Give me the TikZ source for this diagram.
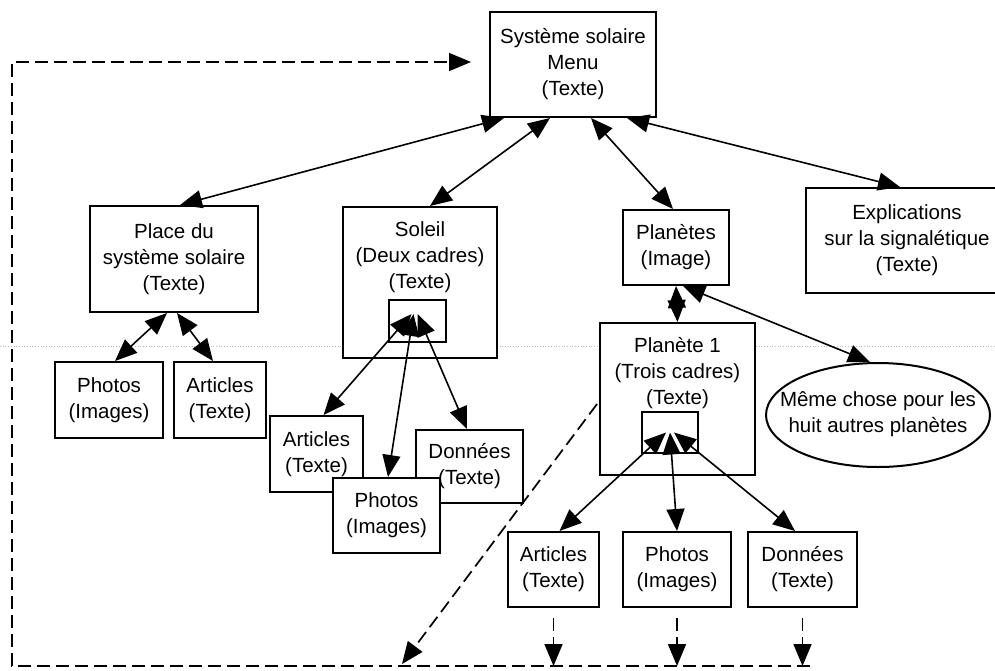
\documentclass[tikz,border=0pt]{standalone}
\usepackage{fontspec}
\setmainfont{Liberation Sans}
\usetikzlibrary{arrows.meta,shapes.geometric}
\begin{document}
\begin{tikzpicture}[x=1pt,y=-1pt,
  >={Stealth[length=22pt,width=18pt,inset=0pt]},
  every node/.style={font=\fontsize{20.5}{26}\selectfont},
  box/.style={draw, line width=2pt, fill=white, inner sep=0pt, align=center},
  txt/.style={inner sep=0pt, align=center},
  link/.style={line width=1.6pt, <->},
  fb/.style={line width=1.7pt, dash pattern=on 13pt off 6pt, ->}]
\useasboundingbox (0,0) rectangle (995,670);
\draw[gray!55, dotted, line width=0.7pt] (0,346) -- (995,346);

\node[box, minimum width=166pt, minimum height=105pt] (menu) at (573,64.5) {Système solaire\\Menu\\(Texte)};
\node[box, minimum width=168pt, minimum height=106pt] (place) at (174,259) {Place du\\système solaire\\(Texte)};
\node[box, minimum width=154pt, minimum height=151pt] (soleil) at (420,282.5) {};
\node[txt] (soleiltxt) at (420,257.5) {Soleil\\(Deux cadres)\\(Texte)};
\node[box, minimum width=57pt, minimum height=42pt] (sinner) at (417.5,321) {};
\node[box, minimum width=106pt, minimum height=75pt] (planetes) at (676,247.5) {Planètes\\(Image)};
\node[box, minimum width=202pt, minimum height=105pt] (expl) at (907,240.5) {Explications\\sur la signalétique\\(Texte)};
\node[box, minimum width=155pt, minimum height=152pt] (planete1) at (677.5,399) {};
\node[txt] (planete1txt) at (677.5,373) {Planète 1\\(Trois cadres)\\(Texte)};
\node[box, minimum width=56pt, minimum height=41pt] (pinner) at (670,432.5) {};
\node[draw, ellipse, line width=2pt, minimum width=224pt, minimum height=104pt, inner sep=0pt] (autres) at (878,415) {};
\node[txt] (autrestxt) at (878,414.5) {Même chose pour les\\huit autres planètes};
\node[box, minimum width=108pt, minimum height=76pt] (photosL) at (109,400) {Photos\\(Images)};
\node[box, minimum width=92pt, minimum height=76pt] (articlesL) at (220,400) {Articles\\(Texte)};
\node[box, minimum width=93pt, minimum height=76pt] (articlesS) at (316.5,454) {Articles\\(Texte)};
\node[box, minimum width=107pt, minimum height=73pt] (donneesS) at (469.5,466.5) {Données\\(Texte)};
\node[box, minimum width=107pt, minimum height=75pt] (photosS) at (386.5,515.5) {Photos\\(Images)};
\node[box, minimum width=91pt, minimum height=75pt] (articlesP) at (553.5,569.5) {Articles\\(Texte)};
\node[box, minimum width=108pt, minimum height=75pt] (photosP) at (677,569.5) {Photos\\(Images)};
\node[box, minimum width=109pt, minimum height=75pt] (donneesP) at (802.5,569.5) {Données\\(Texte)};

\draw[link] ([xshift=15pt]menu.south west) -- ([xshift=6pt]place.north);
\draw[link] ([xshift=-23pt]menu.south) -- ([xshift=10pt]soleil.north);
\draw[link] ([xshift=18pt]menu.south) -- ([xshift=-3pt]planetes.north);
\draw[link] ([xshift=54pt]menu.south) -- ([xshift=-7pt]expl.north);
\draw[link] (planetes.south) -- (planete1.north);
\draw[link] ([xshift=7pt]planetes.south) -- ([xshift=-8pt]autres.north);
\draw[link] ([xshift=-7pt]place.south) -- ([xshift=6pt]photosL.north);
\draw[link] ([xshift=3pt]place.south) -- ([xshift=-7pt]articlesL.north);
\draw[link] ([xshift=-6pt,yshift=7pt]sinner.center) -- ([xshift=7pt]articlesS.north);
\draw[link] ([xshift=-4pt,yshift=7pt]sinner.center) -- ([xshift=1.5pt]photosS.north);
\draw[link] ([xshift=0pt,yshift=7pt]sinner.center) -- ([xshift=-2.5pt]donneesS.north);
\draw[link] ([xshift=-4pt]pinner.center) -- ([xshift=6pt]articlesP.north);
\draw[link] (pinner.center) -- (photosP.north);
\draw[link] ([xshift=4pt]pinner.center) -- ([xshift=-7.5pt]donneesP.north);

\coordinate (br) at (810,666);
\coordinate (bl) at (12,666);
\coordinate (tl) at (12,62);
\coordinate (d1) at (402,664);
\draw[fb, shorten >=18pt] (br) -- (bl) -- (tl) -- (menu.west |- tl);
\draw[fb] ([xshift=-2pt,yshift=-5pt]planete1.west) -- (d1);
\draw[fb] ([yshift=-10pt]articlesP.south) -- (articlesP.south |- br);
\draw[fb] ([yshift=-10pt]photosP.south) -- (photosP.south |- br);
\draw[fb] ([yshift=-10pt]donneesP.south) -- (donneesP.south |- br);
\end{tikzpicture}
\end{document}
